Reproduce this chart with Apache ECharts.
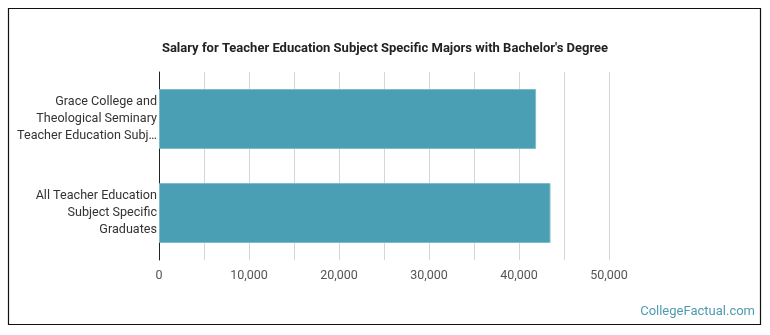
<!DOCTYPE html>
<html><head><meta charset="utf-8">
<script src="https://cdn.jsdelivr.net/npm/echarts@6/dist/echarts.min.js"></script>
<style>html,body{margin:0;padding:0;background:#fff}#c{width:770px;height:335px}</style>
</head><body><div id="c"></div>
<script>
const title = "Salary for Teacher Education Subject Specific Majors with Bachelor's Degree";
const categories = [
  "Grace College and\nTheological Seminary\nTeacher Education Subj…",
  "All Teacher Education\nSubject Specific\nGraduates"
];
const salaries = [41900, 43500];
const xTicks = [0, 10000, 20000, 30000, 40000, 50000];
const watermark = "CollegeFactual.com";

const chart = echarts.init(document.getElementById('c'), null, {renderer: 'canvas'});
chart.setOption({
  animation: false,
  title: {
    text: title, left: 'center', top: 37,
    textStyle: {fontFamily: 'Roboto', fontWeight: 'bold', fontSize: 13, color: '#222'}
  },
  grid: {left: 159, right: 161, top: 72, bottom: 75, containLabel: false},
  xAxis: {
    type: 'value', min: 0, max: 50000, interval: 5000,
    axisLine: {show: false}, axisTick: {show: false},
    splitLine: {show: true, lineStyle: {color: '#d6d6d6', width: 1}},
    axisLabel: {
      color: '#555', fontFamily: 'Roboto', fontSize: 12.5, margin: 9,
      formatter: v => xTicks.includes(v) ? v.toLocaleString('en-US') : ''
    }
  },
  yAxis: {
    type: 'category', data: categories, inverse: true,
    axisLine: {show: true, lineStyle: {color: '#222', width: 1}},
    axisTick: {show: false},
    axisLabel: {color: '#333', fontFamily: 'Roboto', fontSize: 12.6, lineHeight: 17, margin: 2, align: 'right'}
  },
  series: [{
    type: 'bar', data: salaries, barWidth: 60,
    itemStyle: {color: '#4a9fb4', borderColor: '#7fbccb', borderWidth: 1}
  }],
  graphic: [
    {type: 'rect', shape: {x: 8.5, y: 8.5, width: 752, height: 316},
     style: {fill: 'none', stroke: '#111', lineWidth: 1.2}, z: 10},
    {type: 'text', right: 15, top: 305,
     style: {text: watermark, fill: '#4f9bb0', font: '13px Roboto'}}
  ]
});
</script></body></html>
